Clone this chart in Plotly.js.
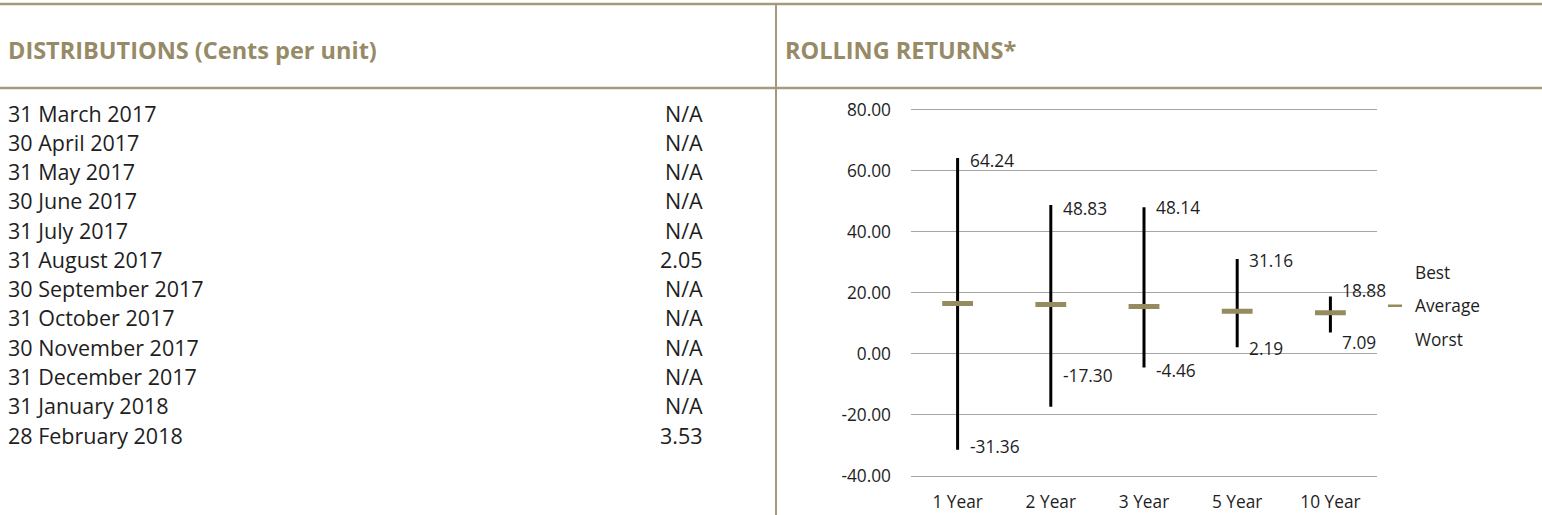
<!DOCTYPE html>
<html>
<head>
<meta charset="utf-8">
<script src="https://cdn.plot.ly/plotly-3.0.1.min.js"></script>
<style>
  html, body { margin: 0; padding: 0; background: #ffffff; }
  #chart { width: 1542px; height: 515px; }
</style>
</head>
<body>
<div id="chart"></div>
<script>
// ---- Data ----
const distributionDates = [
  '31 March 2017', '30 April 2017', '31 May 2017', '30 June 2017',
  '31 July 2017', '31 August 2017', '30 September 2017', '31 October 2017',
  '30 November 2017', '31 December 2017', '31 January 2018', '28 February 2018'
];
const distributionValues = [null, null, null, null, null, 2.05, null, null, null, null, null, 3.53];

const periods = ['1 Year', '2 Year', '3 Year', '5 Year', '10 Year'];
const bestReturns = [64.24, 48.83, 48.14, 31.16, 18.88];
const averageReturns = [16.6, 16.2, 15.6, 14.0, 13.5];
const worstReturns = [-31.36, -17.30, -4.46, 2.19, 7.09];

const yTickValues = [-40, -20, 0, 20, 40, 60, 80];

const distributionsTitle = 'DISTRIBUTIONS (Cents per unit)';
const rollingTitle = 'ROLLING RETURNS*';

// ---- Styling ----
const W = 1542, H = 515;
const FONT = '"Open Sans", "Noto Sans", sans-serif';
const TAN = '#968b66';
const LINE_TAN = '#a39a7c';
const AVG_COLOR = '#958b5e';
const TEXT = '#1e1e1e';
const px = v => v / W;
const py = v => 1 - v / H;

// label vertical nudges (pixels, positive = down), mimicking original placement
const bestNudge = [2, 3, 0, 2, -6];
const worstNudge = [-3, -31, 3, 1, 10];

const traces = [];

// legend-only style marker for Average (hidden beneath main marks)
traces.push({
  x: periods, y: averageReturns, type: 'scatter', mode: 'markers',
  name: 'Average', legendgroup: 'b', legendrank: 2,
  marker: { symbol: 'line-ew', size: 10, color: AVG_COLOR, line: { color: AVG_COLOR, width: 2.5 } },
  hoverinfo: 'skip'
});
traces.push({
  x: periods, y: bestReturns, type: 'scatter', mode: 'lines',
  name: 'Best', legendgroup: 'a', legendrank: 1,
  line: { color: 'rgba(0,0,0,0)', width: 0 }, hoverinfo: 'skip'
});
traces.push({
  x: periods, y: worstReturns, type: 'scatter', mode: 'lines',
  name: 'Worst', legendgroup: 'c', legendrank: 3,
  line: { color: 'rgba(0,0,0,0)', width: 0 }, hoverinfo: 'skip'
});
// main high-low range with average marker
traces.push({
  x: periods, y: averageReturns, type: 'scatter', mode: 'markers',
  showlegend: false,
  marker: { symbol: 'line-ew', size: 22, color: AVG_COLOR, line: { color: AVG_COLOR, width: 5 } },
  error_y: {
    type: 'data', symmetric: false,
    array: bestReturns.map((b, i) => b - averageReturns[i]),
    arrayminus: averageReturns.map((a, i) => a - worstReturns[i]),
    width: 0, thickness: 3, color: '#000000'
  }
});

const annotations = [];
// headers
annotations.push({
  xref: 'paper', yref: 'paper', x: px(6), y: py(50), xanchor: 'left', yanchor: 'middle',
  text: '<b>' + distributionsTitle + '</b>', showarrow: false,
  font: { family: FONT, size: 23.5, color: TAN }
});
annotations.push({
  xref: 'paper', yref: 'paper', x: px(783), y: py(50), xanchor: 'left', yanchor: 'middle',
  text: '<b>' + rollingTitle + '</b>', showarrow: false,
  font: { family: FONT, size: 23.5, color: TAN }
});
// distribution table
distributionDates.forEach((d, i) => {
  annotations.push({
    xref: 'x2', yref: 'y2', x: 6, y: i, xanchor: 'left', yanchor: 'middle',
    text: d, showarrow: false, font: { family: FONT, size: 21.5, color: TEXT }
  });
  const v = distributionValues[i];
  annotations.push({
    xref: 'x2', yref: 'y2', x: 705, y: i, xanchor: 'right', yanchor: 'middle',
    text: v === null ? 'N/A' : v.toFixed(2), showarrow: false,
    font: { family: FONT, size: 21.5, color: TEXT }
  });
});
// data labels
periods.forEach((p, i) => {
  annotations.push({
    xref: 'x', yref: 'y', x: p, y: bestReturns[i], xanchor: 'left', yanchor: 'middle',
    xshift: 10, yshift: -bestNudge[i],
    text: bestReturns[i].toFixed(2), showarrow: false,
    font: { family: FONT, size: 17.3, color: TEXT }
  });
  annotations.push({
    xref: 'x', yref: 'y', x: p, y: worstReturns[i], xanchor: 'left', yanchor: 'middle',
    xshift: 10, yshift: -worstNudge[i],
    text: worstReturns[i].toFixed(2), showarrow: false,
    font: { family: FONT, size: 17.3, color: TEXT }
  });
});

const shapes = [
  { type: 'line', xref: 'paper', yref: 'paper', x0: 0, x1: 1, y0: py(4), y1: py(4), line: { color: LINE_TAN, width: 2.5 } },
  { type: 'line', xref: 'paper', yref: 'paper', x0: 0, x1: 1, y0: py(88), y1: py(88), line: { color: LINE_TAN, width: 2.5 } },
  { type: 'line', xref: 'paper', yref: 'paper', x0: px(776), x1: px(776), y0: 0, y1: py(3), line: { color: LINE_TAN, width: 2 } }
];

// y range padded slightly so the -40 and 80 gridlines are drawn inside the plot
const pad = 0.5;
const pxPerUnit = (476 - 110) / 120;

const layout = {
  width: W, height: H,
  margin: { l: 0, r: 0, t: 0, b: 0, pad: 0 },
  paper_bgcolor: '#ffffff', plot_bgcolor: 'rgba(0,0,0,0)',
  font: { family: FONT, color: TEXT },
  showlegend: true,
  legend: {
    x: px(1375), y: py(306), xanchor: 'left', yanchor: 'middle',
    font: { family: FONT, size: 17.3, color: TEXT },
    tracegroupgap: 8, bgcolor: 'rgba(0,0,0,0)', borderwidth: 0,
    itemclick: false, itemdoubleclick: false
  },
  xaxis: {
    domain: [px(911), px(1377)], anchor: 'y', type: 'category',
    range: [-0.5, 4.5], showgrid: false, zeroline: false, showline: false,
    ticks: '', tickfont: { family: FONT, size: 17.3, color: TEXT },
    ticklabelstandoff: 12, fixedrange: true
  },
  yaxis: {
    domain: [py(476 + pad * pxPerUnit), py(110 - pad * pxPerUnit)], anchor: 'x',
    range: [-40 - pad, 80 + pad],
    tickmode: 'array', tickvals: yTickValues, ticktext: yTickValues.map(v => v.toFixed(2)),
    showgrid: true, gridcolor: '#a6a6a6', gridwidth: 1,
    zeroline: true, zerolinecolor: '#a6a6a6', zerolinewidth: 1,
    showline: false, ticks: '',
    tickfont: { family: FONT, size: 17.3, color: TEXT },
    ticklabelstandoff: 19, fixedrange: true
  },
  xaxis2: {
    domain: [0, 0.5], anchor: 'y2', range: [0, 771], visible: false, fixedrange: true
  },
  yaxis2: {
    domain: [py(449.7), py(98.4)], anchor: 'x2', range: [11.5, -0.5], visible: false, fixedrange: true
  },
  annotations: annotations,
  shapes: shapes
};

Plotly.newPlot('chart', traces, layout, { displayModeBar: false, staticPlot: true });
</script>
</body>
</html>
